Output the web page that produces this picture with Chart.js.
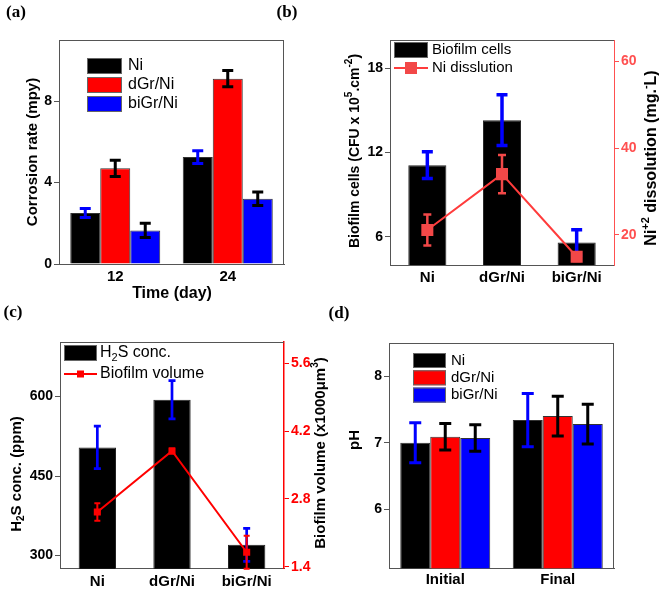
<!DOCTYPE html>
<html><head><meta charset="utf-8">
<script src="https://cdn.jsdelivr.net/npm/chart.js@4.4.1/dist/chart.umd.min.js"></script>
<style>
body{margin:0;background:#fff;width:661px;height:590px;position:relative;overflow:hidden}
canvas{position:absolute}
.pl{position:absolute;font:bold 17px "Liberation Serif","Times New Roman",serif;transform:translate(-50%,-50%);color:#000}
</style></head><body>
<canvas id="ca" style="left:0;top:0" width="330" height="305"></canvas>
<canvas id="cb" style="left:330px;top:0" width="331" height="300"></canvas>
<canvas id="cc" style="left:0;top:300px" width="330" height="290"></canvas>
<canvas id="cd" style="left:330px;top:300px" width="331" height="290"></canvas>
<div class="pl" style="left:16px;top:12px">(a)</div>
<div class="pl" style="left:287px;top:12px">(b)</div>
<div class="pl" style="left:13px;top:312px">(c)</div>
<div class="pl" style="left:339px;top:313px">(d)</div>
<script>
// ---------- data ----------
// (a) corrosion rate
const aCategories = ['12', '24'];
const aNi = [2.5, 5.25];
const aNiErr = [0.22, 0.31];
const aDGr = [4.7, 9.1];
const aDGrErr = [0.4, 0.4];
const aBiGr = [1.65, 3.2];
const aBiGrErr = [0.35, 0.33];
const aYTicks = [0, 4, 8];

// (b) biofilm cells & Ni dissolution
const bCategories = ['Ni', 'dGr/Ni', 'biGr/Ni'];
const bCells = [11.1, 14.3, 5.6];
const bCellsErr = [0.95, 1.8, 0.9];
const bNiDiss = [21.1, 34.0, 14.9];
const bNiDissErr = [3.6, 4.4, 1.0];
const bYTicks = [6, 12, 18];
const bY2Ticks = [20, 40, 60];

// (c) H2S & biofilm volume
const cCategories = ['Ni', 'dGr/Ni', 'biGr/Ni'];
const cH2S = [504, 594, 320];
const cH2SErr = [40, 36, 31];
const cVolume = [2.53, 3.79, 1.70];
const cVolumeErr = [0.18, 0.05, 0.34];
const cYTicks = [300, 450, 600];
const cY2Ticks = [1.4, 2.8, 4.2, 5.6];

// (d) pH
const dCategories = ['Initial', 'Final'];
const dNi = [7.0, 7.34];
const dNiErr = [0.3, 0.4];
const dDGr = [7.09, 7.4];
const dDGrErr = [0.2, 0.3];
const dBiGr = [7.07, 7.28];
const dBiGrErr = [0.2, 0.3];
const dYTicks = [6, 7, 8];

// ---------- helpers ----------
const FAM = '"Liberation Sans", Arial, sans-serif';
Chart.defaults.font.family = FAM;
Chart.defaults.color = '#000';

function fontStr(weight, size) { return weight + ' ' + size + 'px ' + FAM; }

// draw text made of parts; part.s = 'sup' | 'sub' | undefined
function drawRich(ctx, parts, size, weight) {
  const small = Math.round(size * 0.68);
  let total = 0;
  const widths = parts.map(p => {
    ctx.font = fontStr(weight, p.s ? small : size);
    const w = ctx.measureText(p.t).width;
    total += w;
    return w;
  });
  let x = -total / 2;
  parts.forEach((p, i) => {
    ctx.font = fontStr(weight, p.s ? small : size);
    const dy = p.s === 'sup' ? -size * 0.38 : (p.s === 'sub' ? size * 0.3 : 0);
    ctx.fillText(p.t, x, dy);
    x += widths[i];
  });
}

function makePanel(cfg) {
  return {
    id: 'panel',
    afterDatasetDraw(chart, args) {
      const ds = chart.data.datasets[args.index];
      if (!ds.err) return;
      const ctx = chart.ctx, meta = args.meta;
      const ys = chart.scales[meta.yAxisID];
      ctx.save();
      ctx.strokeStyle = ds.errColor;
      ctx.lineWidth = ds.errWidth;
      meta.data.forEach((el, i) => {
        const v = ds.data[i], e = ds.err[i];
        const x = el.x;
        const y1 = ys.getPixelForValue(v + e), y2 = ys.getPixelForValue(v - e);
        const hw = ds.errCap / 2;
        ctx.beginPath();
        ctx.moveTo(x, y1); ctx.lineTo(x, y2);
        ctx.moveTo(x - hw, y1); ctx.lineTo(x + hw, y1);
        ctx.moveTo(x - hw, y2); ctx.lineTo(x + hw, y2);
        ctx.stroke();
      });
      ctx.restore();
    },
    afterDraw(chart) {
      const ctx = chart.ctx, a = chart.chartArea;
      ctx.save();
      // frame
      ctx.strokeStyle = '#555';
      ctx.lineWidth = 1;
      ctx.beginPath();
      const t = Math.round(a.top) + 0.5;
      ctx.moveTo(a.left, t); ctx.lineTo(a.right, t);
      if (cfg.frameRight) {
        const r = Math.round(a.right) - 0.5;
        ctx.moveTo(r, a.top); ctx.lineTo(r, a.bottom);
      }
      ctx.stroke();
      // legend
      const L = cfg.legend;
      L.items.forEach((it, k) => {
        const ds = chart.data.datasets[it.ds];
        const yc = L.y + k * L.pitch;
        if (it.type === 'box') {
          ctx.fillStyle = ds.backgroundColor;
          ctx.fillRect(L.x, yc - L.boxH / 2, L.boxW, L.boxH);
          ctx.strokeStyle = '#666';
          ctx.lineWidth = 1;
          ctx.strokeRect(L.x + 0.5, yc - L.boxH / 2 + 0.5, L.boxW - 1, L.boxH - 1);
        } else {
          ctx.strokeStyle = ds.borderColor;
          ctx.lineWidth = 2;
          ctx.beginPath();
          ctx.moveTo(L.x, yc); ctx.lineTo(L.x + L.boxW, yc);
          ctx.stroke();
          ctx.fillStyle = ds.pointBackgroundColor;
          const s = it.size;
          ctx.fillRect(L.x + L.boxW / 2 - s / 2, yc - s / 2, s, s);
        }
        ctx.fillStyle = '#000';
        ctx.textBaseline = 'middle';
        ctx.textAlign = 'left';
        if (it.parts) {
          ctx.save();
          ctx.translate(L.textX, yc);
          ctx.textAlign = 'left';
          let x = 0;
          const small = Math.round(L.size * 0.68);
          it.parts.forEach(p => {
            ctx.font = fontStr('normal', p.s ? small : L.size);
            const dy = p.s === 'sup' ? -L.size * 0.38 : (p.s === 'sub' ? L.size * 0.3 : 0);
            ctx.fillText(p.t, x, dy);
            x += ctx.measureText(p.t).width;
          });
          ctx.restore();
        } else {
          ctx.font = fontStr('normal', L.size);
          ctx.fillText(ds.label, L.textX, yc);
        }
      });
      // axis titles
      cfg.titles.forEach(tt => {
        ctx.save();
        ctx.translate(tt.x, tt.y);
        ctx.rotate(tt.rot || 0);
        ctx.fillStyle = '#000';
        ctx.textAlign = 'left';
        ctx.textBaseline = 'middle';
        drawRich(ctx, tt.parts, tt.size, 'bold');
        ctx.restore();
      });
      ctx.restore();
    }
  };
}

function yScale(opts) {
  return Object.assign({
    grid: {display: true, drawOnChartArea: false, drawTicks: true, tickLength: 5, color: opts.color || '#555'},
    border: {display: true, color: opts.color || '#555', width: opts.bw || 1},
    ticks: {font: {size: 14, weight: 'bold'}, color: opts.tickColor || '#000', padding: 2},
    afterBuildTicks(s) { s.ticks = opts.tickVals.map(v => ({value: v})); },
    afterFit(s) { s.width = opts.w; }
  }, opts.extra);
}
function xScale(h, pad) {
  return {
    grid: {display: false, drawTicks: false},
    border: {display: true, color: '#555'},
    ticks: {font: {size: 15, weight: 'bold'}, color: '#000', padding: pad},
    afterFit(s) { s.height = h; }
  };
}
const common = {
  responsive: false, animation: false,
  plugins: {legend: {display: false}, tooltip: {enabled: false}}
};
const NEG = -Math.PI / 2;

// ---------- (a) ----------
new Chart(document.getElementById('ca'), {
  type: 'bar',
  data: {labels: aCategories, datasets: [
    {label: 'Ni', data: aNi, backgroundColor: '#000000', borderColor: '#333', borderWidth: 1, err: aNiErr, errColor: '#0000ff', errWidth: 3, errCap: 11},
    {label: 'dGr/Ni', data: aDGr, backgroundColor: '#ff0000', borderColor: '#333', borderWidth: 1, err: aDGrErr, errColor: '#000', errWidth: 3, errCap: 11},
    {label: 'biGr/Ni', data: aBiGr, backgroundColor: '#0000ff', borderColor: '#333', borderWidth: 1, err: aBiGrErr, errColor: '#000', errWidth: 3, errCap: 11}
  ]},
  options: Object.assign({}, common, {
    layout: {padding: {top: 40, right: 46, left: 0, bottom: 0}},
    datasets: {bar: {categoryPercentage: 0.8, barPercentage: 1}},
    scales: {
      x: xScale(41, 4),
      y: yScale({w: 59, tickVals: aYTicks, extra: {min: 0, max: 11}})
    }
  }),
  plugins: [makePanel({
    frameRight: true,
    legend: {x: 87, y: 66, pitch: 19, boxW: 35, boxH: 16, textX: 128, size: 16,
      items: [{ds: 0, type: 'box'}, {ds: 1, type: 'box'}, {ds: 2, type: 'box'}]},
    titles: [
      {parts: [{t: 'Corrosion rate (mpy)'}], x: 33, y: 152, rot: NEG, size: 15},
      {parts: [{t: 'Time (day)'}], x: 172, y: 294, size: 16}
    ]
  })]
});

// ---------- (b) ----------
new Chart(document.getElementById('cb'), {
  type: 'bar',
  data: {labels: bCategories, datasets: [
    {type: 'bar', label: 'Biofilm cells', data: bCells, yAxisID: 'y', order: 2, backgroundColor: '#000000', borderColor: '#222', borderWidth: 1,
      barPercentage: 0.51, categoryPercentage: 1, err: bCellsErr, errColor: '#0000ff', errWidth: 3.5, errCap: 11},
    {type: 'line', label: 'Ni disslution', data: bNiDiss, yAxisID: 'y2', order: 1, borderColor: '#ff3c3c', borderWidth: 2,
      pointStyle: 'rect', pointRadius: 8.5, pointBackgroundColor: '#f24848', pointBorderWidth: 0,
      err: bNiDissErr, errColor: '#f24848', errWidth: 2.5, errCap: 8}
  ]},
  options: Object.assign({}, common, {
    layout: {padding: {top: 40, right: 0, left: 0, bottom: 0}},
    scales: {
      x: xScale(35, 4),
      y: yScale({w: 60, tickVals: bYTicks, extra: {position: 'left', min: 4, max: 20}}),
      y2: yScale({w: 47, tickVals: bY2Ticks, color: '#ff5050', tickColor: '#ff5050', extra: {position: 'right', min: 13, max: 65}})
    }
  }),
  plugins: [makePanel({
    frameRight: false,
    legend: {x: 64, y: 50, pitch: 18, boxW: 34, boxH: 16, textX: 102, size: 15,
      items: [{ds: 0, type: 'box'}, {ds: 1, type: 'line', size: 12}]},
    titles: [
      {parts: [{t: 'Biofilm cells (CFU x 10'}, {t: '5', s: 'sup'}, {t: '.cm'}, {t: '-2', s: 'sup'}, {t: ')'}],
        x: 25, y: 151, rot: NEG, size: 14},
      {parts: [{t: 'Ni'}, {t: '+2', s: 'sup'}, {t: ' dissolution (mg.'}, {t: '-', s: 'sup'}, {t: 'L)'}],
        x: 322, y: 158, rot: NEG, size: 16}
    ]
  })]
});

// ---------- (c) ----------
new Chart(document.getElementById('cc'), {
  type: 'bar',
  data: {labels: cCategories, datasets: [
    {type: 'bar', label: 'H\u2082S conc.', data: cH2S, yAxisID: 'y', order: 2, backgroundColor: '#000000', borderColor: '#222', borderWidth: 1,
      barPercentage: 0.5, categoryPercentage: 1, err: cH2SErr, errColor: '#0000ff', errWidth: 2.7, errCap: 7},
    {type: 'line', label: 'Biofilm volume', data: cVolume, yAxisID: 'y2', order: 1, borderColor: '#ff0000', borderWidth: 2,
      pointStyle: 'rect', pointRadius: 5, pointBackgroundColor: '#ff0000', pointBorderWidth: 0,
      err: cVolumeErr, errColor: '#ff0000', errWidth: 2, errCap: 6}
  ]},
  options: Object.assign({}, common, {
    layout: {padding: {top: 42, right: 0, left: 0, bottom: 0}},
    scales: {
      x: xScale(21.3, 4),
      y: yScale({w: 60, tickVals: cYTicks, extra: {position: 'left', min: 275, max: 703}}),
      y2: yScale({w: 46, tickVals: cY2Ticks, color: '#ff0000', tickColor: '#ff0000', bw: 1.5,
        extra: {position: 'right', min: 1.36, max: 6.04}})
    }
  }),
  plugins: [makePanel({
    frameRight: false,
    legend: {x: 64, y: 53, pitch: 21, boxW: 33, boxH: 16, textX: 100, size: 16,
      items: [{ds: 0, type: 'box', parts: [{t: 'H'}, {t: '2', s: 'sub'}, {t: 'S conc.'}]}, {ds: 1, type: 'line', size: 7}]},
    titles: [
      {parts: [{t: 'H'}, {t: '2', s: 'sub'}, {t: 'S conc. (ppm)'}], x: 17, y: 174, rot: NEG, size: 15},
      {parts: [{t: 'Biofilm volume (x1000\u03BCm'}, {t: '3', s: 'sup'}, {t: ')'}], x: 321, y: 153, rot: NEG, size: 15}
    ]
  })]
});

// ---------- (d) ----------
new Chart(document.getElementById('cd'), {
  type: 'bar',
  data: {labels: dCategories, datasets: [
    {label: 'Ni', data: dNi, backgroundColor: '#000000', borderColor: '#333', borderWidth: 1, err: dNiErr, errColor: '#0000ff', errWidth: 3, errCap: 12},
    {label: 'dGr/Ni', data: dDGr, backgroundColor: '#ff0000', borderColor: '#333', borderWidth: 1, err: dDGrErr, errColor: '#000', errWidth: 3, errCap: 12},
    {label: 'biGr/Ni', data: dBiGr, backgroundColor: '#0000ff', borderColor: '#333', borderWidth: 1, err: dBiGrErr, errColor: '#000', errWidth: 3, errCap: 12}
  ]},
  options: Object.assign({}, common, {
    layout: {padding: {top: 43, right: 47, left: 0, bottom: 0}},
    datasets: {bar: {categoryPercentage: 0.8, barPercentage: 1}},
    scales: {
      x: xScale(21.7, 3),
      y: yScale({w: 59, tickVals: dYTicks, extra: {min: 5.11, max: 8.5}})
    }
  }),
  plugins: [makePanel({
    frameRight: true,
    legend: {x: 83, y: 60.5, pitch: 17.3, boxW: 33, boxH: 15, textX: 121, size: 15,
      items: [{ds: 0, type: 'box'}, {ds: 1, type: 'box'}, {ds: 2, type: 'box'}]},
    titles: [
      {parts: [{t: 'pH'}], x: 25, y: 140, rot: NEG, size: 15}
    ]
  })]
});
</script>
</body></html>
